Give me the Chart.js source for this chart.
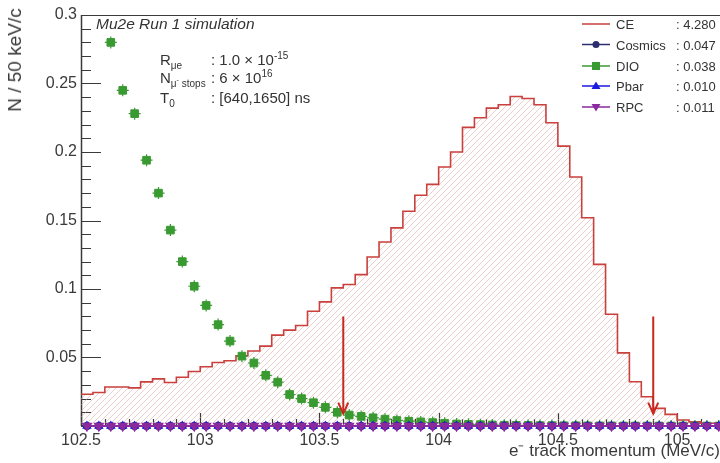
<!DOCTYPE html>
<html>
<head>
<meta charset="utf-8">
<script src="https://cdn.jsdelivr.net/npm/chart.js@4.4.1/dist/chart.umd.min.js"></script>
<style>
  body { margin: 0; background: #fff; }
  #wrap { position: relative; width: 720px; height: 463px; font-family: "Liberation Sans", Arial, sans-serif; color: #333; overflow: hidden; }
  .txt { position: absolute; white-space: nowrap; font-size: 15px; line-height: 18px; }
  .txt sub, .txt sup { font-size: 10px; line-height: 0; }
  .txt sub { vertical-align: -4px; }
  .txt sup { vertical-align: 6px; }
  .txt sub sup { font-size: 7px; vertical-align: 5px; }
  .leg { position: absolute; white-space: nowrap; font-size: 13px; line-height: 16px; }
  #ytitle { position: absolute; left: 15px; top: 60px; font-size: 19px; line-height: 20px; color: #3a3a3a;
            white-space: nowrap; transform: translate(-50%, -50%) rotate(-90deg); }
</style>
</head>
<body>
<div id="wrap">
  <canvas id="momentumChart" width="720" height="463"></canvas>

  <div id="ytitle">N / 50 keV/c</div>

  <div class="txt" style="left:96px; top:15px; font-style:italic; font-size:15.5px;">Mu2e Run 1 simulation</div>

  <div class="txt" style="left:160px; top:51px;">R<sub>μe</sub></div>
  <div class="txt" style="left:211px; top:51px;">: 1.0 × 10<sup>-15</sup></div>
  <div class="txt" style="left:160px; top:69px;">N<sub>μ<sup>-</sup> stops</sub></div>
  <div class="txt" style="left:211px; top:69px;">: 6 × 10<sup>16</sup></div>
  <div class="txt" style="left:160px; top:89px;">T<sub>0</sub></div>
  <div class="txt" style="left:211px; top:89px;">: [640,1650] ns</div>

  <!-- legend -->
  <svg style="position:absolute; left:578px; top:14px;" width="36" height="104">
    <line x1="4" y1="10" x2="32" y2="10" stroke="#c9403c" stroke-width="1.5"/>
    <line x1="4" y1="30.5" x2="32" y2="30.5" stroke="#2b2d6e" stroke-width="1.5"/>
    <circle cx="18" cy="30.5" r="3.5" fill="#2b2d6e"/>
    <line x1="4" y1="52" x2="32" y2="52" stroke="#3a9a32" stroke-width="1.5"/>
    <rect x="14" y="48" width="8" height="8" fill="#3a9a32"/>
    <line x1="4" y1="72" x2="32" y2="72" stroke="#1a1ae0" stroke-width="1.5"/>
    <polygon points="18,67.5 22.5,75 13.5,75" fill="#1a1ae0"/>
    <line x1="4" y1="93" x2="32" y2="93" stroke="#8a2a9e" stroke-width="1.5"/>
    <polygon points="18,97.5 22.5,90 13.5,90" fill="#8a2a9e"/>
  </svg>
  <div class="leg" style="left:616px; top:17px;">CE</div>
  <div class="leg" style="left:676px; top:17px;">: 4.280</div>
  <div class="leg" style="left:616px; top:37.5px;">Cosmics</div>
  <div class="leg" style="left:676px; top:37.5px;">: 0.047</div>
  <div class="leg" style="left:616px; top:58.5px;">DIO</div>
  <div class="leg" style="left:676px; top:58.5px;">: 0.038</div>
  <div class="leg" style="left:616px; top:79px;">Pbar</div>
  <div class="leg" style="left:676px; top:79px;">: 0.010</div>
  <div class="leg" style="left:616px; top:100px;">RPC</div>
  <div class="leg" style="left:676px; top:100px;">: 0.011</div>
</div>

<script>
// bin centres (MeV/c), 50 keV bins
const momentum = [
  102.525, 102.575, 102.625, 102.675, 102.725, 102.775, 102.825, 102.875, 102.925, 102.975,
  103.025, 103.075, 103.125, 103.175, 103.225, 103.275, 103.325, 103.375, 103.425, 103.475,
  103.525, 103.575, 103.625, 103.675, 103.725, 103.775, 103.825, 103.875, 103.925, 103.975,
  104.025, 104.075, 104.125, 104.175, 104.225, 104.275, 104.325, 104.375, 104.425, 104.475,
  104.525, 104.575, 104.625, 104.675, 104.725, 104.775, 104.825, 104.875, 104.925, 104.975,
  105.025, 105.075, 105.125, 105.175
];
const binWidth = 0.05;

const ceYield = [
  0.0232, 0.0232, 0.0245, 0.0285, 0.0285, 0.0278, 0.0322, 0.0344, 0.0317, 0.0356,
  0.0398, 0.0432, 0.0464, 0.0476, 0.0513, 0.0547, 0.0583, 0.0663, 0.0700, 0.0734,
  0.0838, 0.0906, 0.1008, 0.1033, 0.1105, 0.1234, 0.1343, 0.1446, 0.1567, 0.1684,
  0.1764, 0.1890, 0.2000, 0.2180, 0.2250, 0.2320, 0.2345, 0.2405, 0.2390, 0.2345,
  0.2213, 0.2043, 0.1817, 0.1520, 0.1180, 0.0816, 0.0534, 0.0323, 0.0214, 0.0129,
  0.0085, 0.0044, 0.0030, 0.0020
];

// first two DIO bins are above the frame
const dioYield = [
  null, null, 0.280, 0.245, 0.228, 0.194, 0.170, 0.143, 0.120, 0.102,
  0.088, 0.074, 0.062, 0.051, 0.046, 0.037, 0.032, 0.023, 0.020, 0.017,
  0.0136, 0.010, 0.008, 0.007, 0.006, 0.005, 0.004, 0.0035, 0.003, 0.0025,
  0.002, 0.0015, 0.0012, 0.001, 0.0008, 0.0006, 0.0005, 0.0004, 0.0003, 0.0003,
  0.0002, 0.0002, 0.0001, 0.0001, 0.0001, 0, 0, 0, 0, 0,
  0, 0, 0, 0
];

const cosmicsYield = [
  0, 0, 0, 0, 0, 0, 0, 0, 0, 0, 0, 0, 0, 0, 0, 0, 0, 0, 0, 0, 0, 0, 0, 0, 0, 0, 0,
  0, 0, 0, 0, 0, 0, 0, 0, 0, 0, 0, 0, 0, 0, 0, 0, 0, 0, 0, 0, 0, 0, 0, 0, 0, 0, 0
];
const pbarYield = [
  0, 0, 0, 0, 0, 0, 0, 0, 0, 0, 0, 0, 0, 0, 0, 0, 0, 0, 0, 0, 0, 0, 0, 0, 0, 0, 0,
  0, 0, 0, 0, 0, 0, 0, 0, 0, 0, 0, 0, 0, 0, 0, 0, 0, 0, 0, 0, 0, 0, 0, 0, 0, 0, 0
];
const rpcYield = [
  0, 0, 0, 0, 0, 0, 0, 0, 0, 0, 0, 0, 0, 0, 0, 0, 0, 0, 0, 0, 0, 0, 0, 0, 0, 0, 0,
  0, 0, 0, 0, 0, 0, 0, 0, 0, 0, 0, 0, 0, 0, 0, 0, 0, 0, 0, 0, 0, 0, 0, 0, 0, 0, 0
];

// signal window arrows
const arrowMomentum = [103.6, 104.9];
const arrowTop = 0.08;
const arrowTip = 0.009;

const xTicks = [102.5, 103, 103.5, 104, 104.5, 105];
const yTicks = [0.05, 0.1, 0.15, 0.2, 0.25, 0.3];

const FONT = '"Liberation Sans", Arial, sans-serif';
const RED = '#c9403c';

// hatch fill like ROOT 3004
function hatchPattern() {
  const s = 6;
  const c = document.createElement('canvas');
  c.width = c.height = s;
  const g = c.getContext('2d');
  g.strokeStyle = 'rgba(215,160,160,0.5)';
  g.lineWidth = 1;
  g.beginPath();
  g.moveTo(-1, s + 1); g.lineTo(s + 1, -1);
  g.moveTo(-1, 1); g.lineTo(1, -1);
  g.moveTo(s - 1, s + 1); g.lineTo(s + 1, s - 1);
  g.stroke();
  return g.createPattern(c, 'repeat');
}

const ctx = document.getElementById('momentumChart').getContext('2d');

// step outline: left edge of every bin, plus the last right edge
const ceSteps = ceYield.map((v, i) => ({ x: momentum[i] - binWidth / 2, y: v }));
ceSteps.push({ x: momentum[momentum.length - 1] + binWidth / 2, y: ceYield[ceYield.length - 1] });

const pts = (arr) => arr.map((v, i) => ({ x: momentum[i], y: v }));

// frame and inward ticks (ROOT style)
const rootFrame = {
  id: 'rootFrame',
  beforeDatasetsDraw(chart) {
    const { ctx, chartArea: a, scales: { x, y } } = chart;
    ctx.save();
    ctx.strokeStyle = '#3a3a3a';
    ctx.lineWidth = 1;
    ctx.strokeRect(a.left + 0.5, a.top + 0.5, a.width, a.height - 1);
    ctx.lineWidth = 1.5;
    ctx.beginPath();
    ctx.moveTo(a.left + 0.5, a.top);
    ctx.lineTo(a.left + 0.5, a.bottom);
    ctx.stroke();
    ctx.lineWidth = 1.2;
    ctx.beginPath();
    for (let k = 0; k <= 30; k++) {
      const py = Math.round(y.getPixelForValue(k / 100)) + 0.5;
      const len = k % 5 === 0 ? 20 : 10;
      ctx.moveTo(a.left, py);
      ctx.lineTo(a.left + len, py);
    }
    for (let k = 0; k <= 26; k++) {
      const px = Math.round(x.getPixelForValue(102.5 + k / 10)) + 0.5;
      const len = k % 5 === 0 ? 13 : 7;
      ctx.moveTo(px, a.bottom);
      ctx.lineTo(px, a.bottom - len);
    }
    ctx.stroke();
    ctx.restore();
  }
};

const arrowHeads = {
  id: 'arrowHeads',
  afterDatasetsDraw(chart) {
    const { ctx } = chart;
    chart.data.datasets.forEach((ds, i) => {
      if (!ds.isArrow) return;
      const els = chart.getDatasetMeta(i).data;
      const tip = els[els.length - 1];
      ctx.save();
      ctx.strokeStyle = ds.borderColor;
      ctx.lineWidth = 2;
      ctx.beginPath();
      ctx.moveTo(tip.x - 5, tip.y - 11);
      ctx.lineTo(tip.x, tip.y);
      ctx.lineTo(tip.x + 5, tip.y - 11);
      ctx.stroke();
      ctx.restore();
    });
  }
};

const arrowSets = arrowMomentum.map((m) => ({
  label: 'window',
  isArrow: true,
  data: [{ x: m, y: arrowTop }, { x: m, y: arrowTip }],
  borderColor: '#c8281e',
  borderWidth: 2,
  pointRadius: 0,
  showLine: true,
  order: 5
}));

new Chart(ctx, {
  type: 'line',
  data: {
    datasets: [
      {
        label: 'RPC',
        data: pts(rpcYield),
        borderColor: '#8a2a9e',
        backgroundColor: '#8a2a9e',
        borderWidth: 1.8,
        pointStyle: 'triangle',
        pointRotation: 180,
        pointRadius: 4.5,
        clip: false,
        order: 0
      },
      {
        label: 'Pbar',
        data: pts(pbarYield),
        borderColor: '#1a1ae0',
        backgroundColor: '#1a1ae0',
        borderWidth: 1.5,
        pointStyle: 'triangle',
        pointRadius: 4,
        clip: false,
        order: 1
      },
      {
        label: 'Cosmics',
        data: pts(cosmicsYield),
        borderColor: '#2b2d6e',
        backgroundColor: '#2b2d6e',
        borderWidth: 1.5,
        pointStyle: 'circle',
        pointRadius: 3.5,
        clip: false,
        order: 2
      },
      {
        label: 'DIO',
        data: pts(dioYield),
        showLine: false,
        borderColor: '#3a9a32',
        backgroundColor: '#3a9a32',
        pointStyle: 'rect',
        pointRadius: 5.4,
        order: 3
      },
      {
        label: 'DIO errors',
        data: pts(dioYield),
        showLine: false,
        borderColor: '#3a9a32',
        borderWidth: 1.2,
        pointStyle: 'cross',
        pointRadius: 6,
        order: 4
      },
      ...arrowSets,
      {
        label: 'CE',
        data: ceSteps,
        stepped: 'after',
        borderColor: RED,
        borderWidth: 1.6,
        backgroundColor: hatchPattern(),
        fill: 'origin',
        pointRadius: 0,
        order: 6
      }
    ]
  },
  options: {
    responsive: false,
    animation: false,
    events: [],
    layout: { autoPadding: false, padding: { top: 15, right: 0, left: 0, bottom: 0 } },
    plugins: {
      legend: { display: false },
      tooltip: { enabled: false }
    },
    scales: {
      x: {
        type: 'linear',
        min: 102.5,
        max: 105.18,
        afterBuildTicks: (s) => { s.ticks = xTicks.map((v) => ({ value: v })); },
        afterFit: (s) => { s.height = 37; s.paddingRight = 0; s.paddingLeft = 0; },
        ticks: {
          color: '#3a3a3a',
          font: { family: FONT, size: 16 },
          padding: 5,
          maxRotation: 0,
          autoSkip: false,
          callback: (v) => String(v)
        },
        grid: { display: false, drawTicks: false },
        border: { display: false },
        title: {
          display: true,
          text: 'e⁻ track momentum (MeV/c)',
          align: 'end',
          color: '#3a3a3a',
          font: { family: FONT, size: 17 },
          padding: { top: 0, bottom: 1 }
        }
      },
      y: {
        min: 0,
        max: 0.3,
        afterBuildTicks: (s) => { s.ticks = yTicks.map((v) => ({ value: v })); },
        afterFit: (s) => { s.width = 81; },
        ticks: {
          color: '#3a3a3a',
          font: { family: FONT, size: 16 },
          padding: 4,
          callback: (v) => String(v)
        },
        grid: { display: false, drawTicks: false },
        border: { display: false }
      }
    }
  },
  plugins: [rootFrame, arrowHeads]
});
</script>
</body>
</html>
